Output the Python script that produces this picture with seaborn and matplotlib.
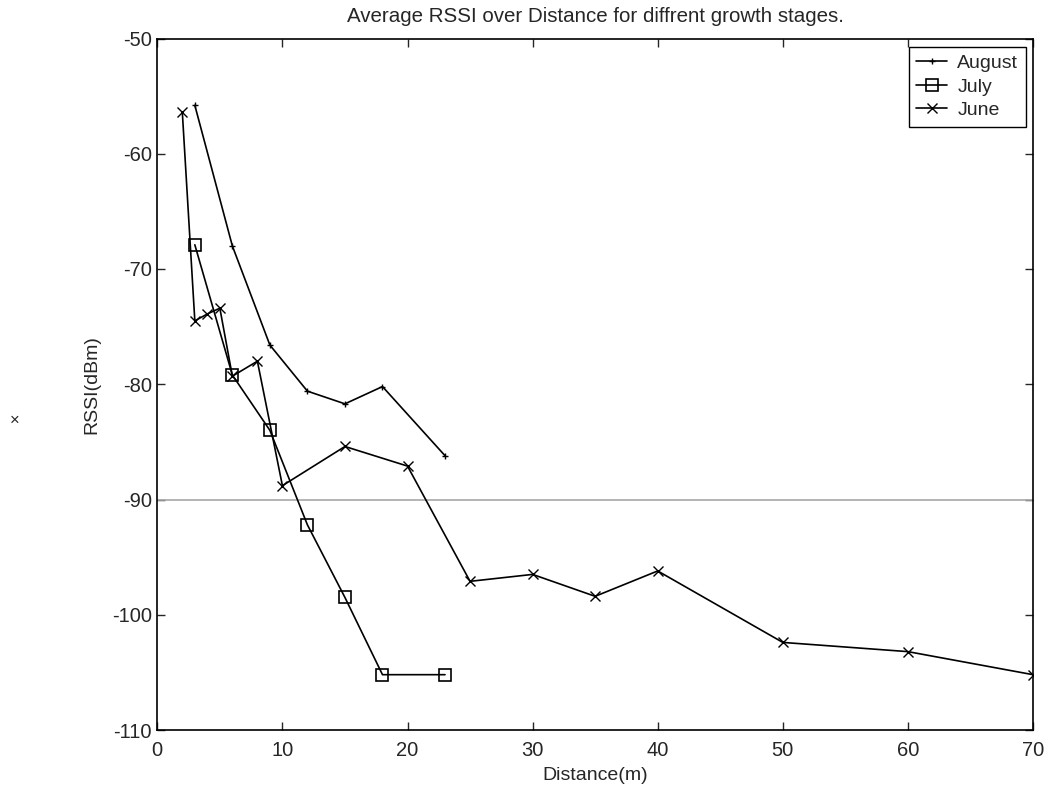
import matplotlib
matplotlib.use("Agg")
import matplotlib.pyplot as plt
import seaborn as sns
import pandas as pd

# Data
aug_x = [3, 6, 9, 12, 15, 18, 23]
aug_y = [-55.8, -68.0, -76.6, -80.6, -81.7, -80.2, -86.2]

jul_x = [3, 6, 9, 12, 15, 18, 23]
jul_y = [-67.9, -79.2, -84.0, -92.2, -98.5, -105.2, -105.2]

jun_x = [2, 3, 4, 5, 6, 8, 10, 15, 20, 25, 30, 35, 40, 50, 60, 70]
jun_y = [-56.4, -74.5, -73.9, -73.4, -79.3, -78.0, -88.8, -85.4, -87.1,
         -97.1, -96.5, -98.4, -96.2, -102.4, -103.2, -105.2]

threshold = -90
x_ticks = [0, 10, 20, 30, 40, 50, 60, 70]
y_ticks = [-110, -100, -90, -80, -70, -60, -50]

sns.set_style("white")
plt.rcParams['font.family'] = ['Liberation Sans', 'DejaVu Sans']

fig = plt.figure(figsize=(10.49, 7.86), dpi=100)
ax = fig.add_axes([157.3/1049, 1 - 730/786, (1033-157.3)/1049, (730-38.5)/786])

ax.axhline(threshold, color="#a8a8a8", lw=1.2, zorder=1)

df_aug = pd.DataFrame({"x": aug_x, "y": aug_y})
df_jul = pd.DataFrame({"x": jul_x, "y": jul_y})
df_jun = pd.DataFrame({"x": jun_x, "y": jun_y})

sns.lineplot(data=df_aug, x="x", y="y", ax=ax, color="black", lw=1.2,
             marker="+", markersize=5, markeredgewidth=1.0,
             markeredgecolor="black", sort=False,
             estimator=None, label="August")
sns.lineplot(data=df_jul, x="x", y="y", ax=ax, color="black", lw=1.2,
             marker="s", markersize=8, markerfacecolor="none",
             markeredgecolor="black", markeredgewidth=1.2, sort=False,
             estimator=None, label="July")
sns.lineplot(data=df_jun, x="x", y="y", ax=ax, color="black", lw=1.2,
             marker="x", markersize=7, markeredgewidth=1.0,
             markeredgecolor="black", sort=False,
             estimator=None, label="June")

ax.set_xlim(0, 70)
ax.set_ylim(-110, -50)
ax.set_xticks(x_ticks)
ax.set_yticks(y_ticks)
ax.set_xticklabels([str(v) for v in x_ticks])
ax.set_yticklabels([str(v) for v in y_ticks])
ax.tick_params(direction="in", length=6, width=1, labelsize=14.5,
               top=True, right=True, bottom=True, left=True)
ax.tick_params(axis="x", pad=8)
ax.tick_params(axis="y", pad=4)
for s in ax.spines.values():
    s.set_visible(True)
    s.set_color("black")
    s.set_linewidth(1.2)

ax.set_xlabel("Distance(m)", fontsize=14, labelpad=5)
ax.set_ylabel("RSSI(dBm)", fontsize=14, labelpad=8)
ax.set_title("Average RSSI over Distance for diffrent growth stages.",
             fontsize=14.8, pad=12)

leg = ax.legend(loc="upper right", bbox_to_anchor=(0.992, 0.988),
                borderaxespad=0, fancybox=False, framealpha=1,
                edgecolor="black", fontsize=14, handlelength=1.6,
                handletextpad=0.5, borderpad=0.4, labelspacing=0.3)
leg.get_frame().set_linewidth(1.0)

fig.text(15/1049, 1 - 420/786, "×", fontsize=12, ha="center", va="center")

fig.savefig("out.png", dpi=100)
